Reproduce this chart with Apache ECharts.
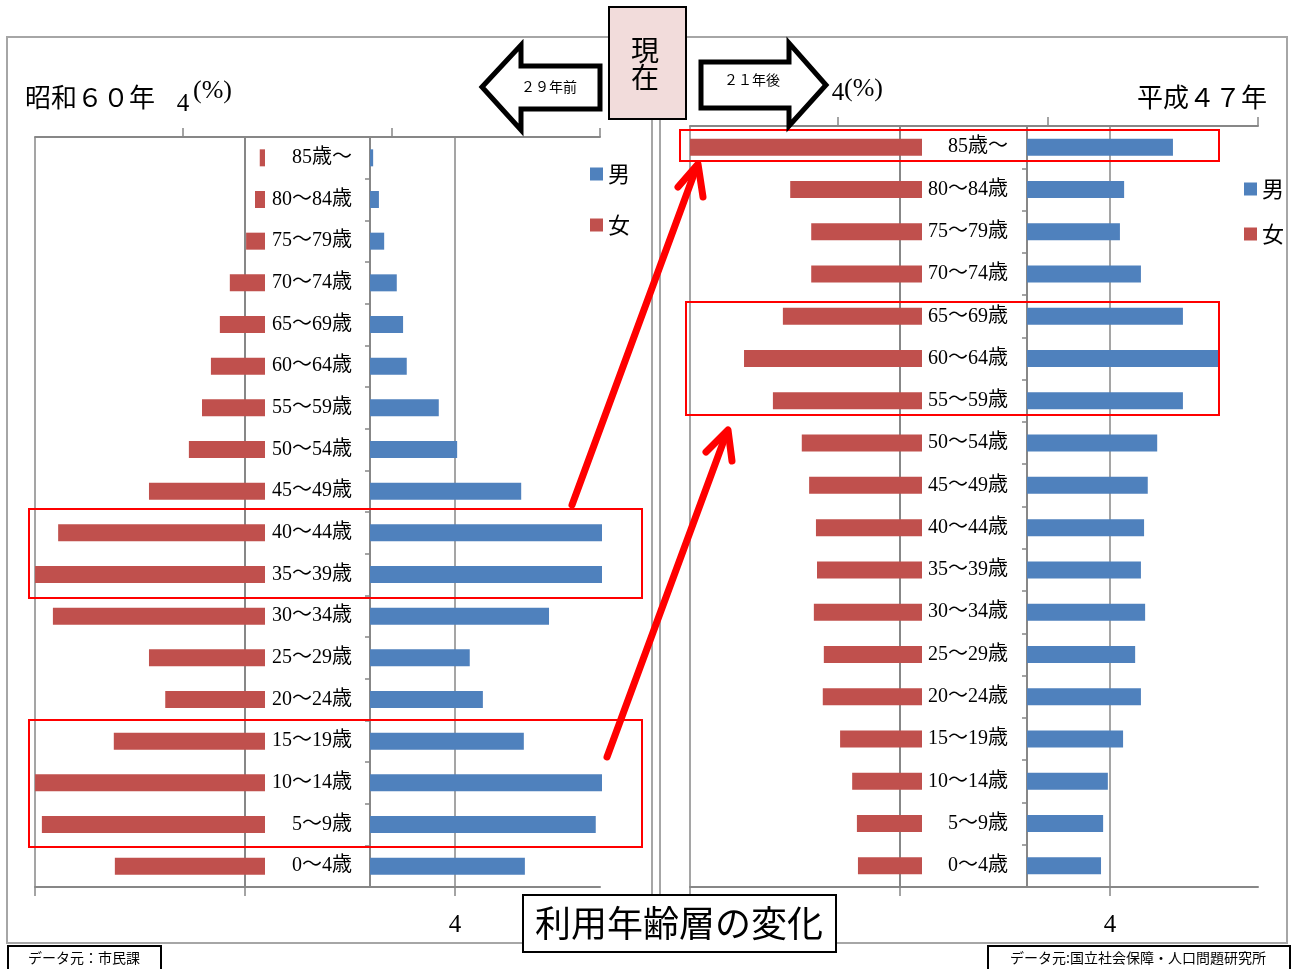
<!DOCTYPE html>
<html>
<head>
<meta charset="utf-8">
<title>利用年齢層の変化</title>
<script src="https://cdn.jsdelivr.net/npm/echarts@6/dist/echarts.min.js"></script>
<style>
  html, body { margin: 0; padding: 0; background: #fff; }
  #main { width: 1298px; height: 969px; }
</style>
</head>
<body>
<div id="main"></div>
<script>
// 年齢区分（上から）
var ages = ['85歳～', '80～84歳', '75～79歳', '70～74歳', '65～69歳', '60～64歳', '55～59歳', '50～54歳', '45～49歳',
    '40～44歳', '35～39歳', '30～34歳', '25～29歳', '20～24歳', '15～19歳', '10～14歳', '5～9歳', '0～4歳'];

// 昭和60年 (%)
var s60Female = [0.10, 0.19, 0.36, 0.67, 0.86, 1.03, 1.20, 1.45, 2.21, 3.94, 4.38, 4.04, 2.21, 1.90, 2.88, 4.38, 4.25, 2.86];
var s60Male = [0.06, 0.17, 0.27, 0.51, 0.63, 0.70, 1.31, 1.66, 2.88, 4.42, 4.42, 3.41, 1.90, 2.15, 2.93, 4.42, 4.30, 2.95];

// 平成47年 (%)
var h47Female = [4.42, 2.51, 2.11, 2.11, 2.65, 3.39, 2.84, 2.29, 2.15, 2.02, 2.00, 2.06, 1.87, 1.89, 1.56, 1.33, 1.24, 1.22];
var h47Male = [2.78, 1.85, 1.77, 2.17, 2.97, 3.64, 2.97, 2.48, 2.30, 2.23, 2.17, 2.25, 2.06, 2.17, 1.83, 1.54, 1.45, 1.41];

var axisTicks = [-4, 0, 4];
var axisLabels = [4];
var legendNames = ['男', '女'];

var PX = 52.5;  // 1% あたりのピクセル
var GRAY = '#878787';
var MALE = '#4f81bd';
var FEMALE = '#c0504d';
var SERIF = '"Liberation Serif", "Noto Sans CJK JP", serif';
var SANS = '"Noto Sans CJK JP", sans-serif';

var myChart = echarts.init(document.getElementById('main'));

function hiddenValue(grid, inverse, width) {
    return {
        type: 'value', gridIndex: grid, inverse: inverse, min: 0, max: width / PX,
        axisLine: {show: false}, axisTick: {show: false}, axisLabel: {show: false}, splitLine: {show: false}
    };
}

function frameAxis(grid, pos, inverse, width, px) {
    return {
        type: 'value', gridIndex: grid, position: pos, inverse: inverse,
        min: axisTicks[0], max: axisTicks[0] + width / px, interval: 4,
        axisLine: {show: true, lineStyle: {color: GRAY, width: 2}},
        axisTick: {show: true, length: 9, customValues: axisTicks, lineStyle: {color: GRAY, width: 1.5}},
        axisLabel: {
            margin: pos === 'top' ? 20 : 26, fontSize: 25, color: '#000', fontFamily: SERIF,
            customValues: axisLabels, showMaxLabel: false,
            formatter: function (v) { return v === 4 ? '4' : ''; }
        },
        // 端の目盛りには線を引かない
        splitLine: {show: pos === 'bottom', lineStyle: {color: [GRAY, GRAY, GRAY, 'rgba(0,0,0,0)'], width: 1.5}}
    };
}

function catAxis(grid, show, margin) {
    return {
        type: 'category', gridIndex: grid, data: ages, inverse: true,
        axisLine: {show: show, lineStyle: {color: GRAY, width: 2}},
        axisTick: {show: show, length: 5, lineStyle: {color: GRAY, width: 1.5}},
        axisLabel: {show: show, margin: margin, fontSize: 20, color: '#000', fontFamily: SERIF},
        splitLine: {show: false}
    };
}

function frameY(grid) {
    return {
        type: 'value', gridIndex: grid, min: 0, max: 1,
        axisLine: {show: true, lineStyle: {color: GRAY, width: 2}},
        axisTick: {show: false}, axisLabel: {show: false}, splitLine: {show: false}
    };
}

function bar(name, xi, yi, data, color) {
    return {
        name: name, type: 'bar', xAxisIndex: xi, yAxisIndex: yi, data: data,
        barWidth: 17, itemStyle: {color: color}, silent: true, animation: false
    };
}

var grayLine = {stroke: '#a6a6a6', lineWidth: 2, fill: null};
var redBox = {stroke: '#ff0000', lineWidth: 2, fill: null};
var redArrow = {stroke: '#ff0000', lineWidth: 7, lineCap: 'round', lineJoin: 'round', fill: null};
var blackArrow = {stroke: '#000', lineWidth: 5, fill: '#fff', lineJoin: 'miter'};

var option = {
    backgroundColor: '#fff',
    animation: false,
    grid: [
        {left: 35, top: 137, width: 230, height: 750},
        {left: 370, top: 137, width: 232, height: 750},
        {left: 35, top: 137, width: 565, height: 750},
        {left: 690, top: 126, width: 232, height: 761},
        {left: 1027, top: 126, width: 231, height: 761},
        {left: 690, top: 126, width: 568, height: 761}
    ],
    xAxis: [
        hiddenValue(0, true, 230),
        hiddenValue(1, false, 232),
        frameAxis(2, 'bottom', false, 565, PX),
        frameAxis(2, 'top', true, 565, 208.5 / 4),
        hiddenValue(3, true, 232),
        hiddenValue(4, false, 231),
        frameAxis(5, 'bottom', false, 568, PX),
        frameAxis(5, 'top', true, 568, PX)
    ],
    yAxis: [
        catAxis(0, false, 0),
        catAxis(1, true, 18),
        frameY(2),
        catAxis(3, false, 0),
        catAxis(4, true, 19),
        frameY(5)
    ],
    legend: [
        {
            data: legendNames, orient: 'vertical', left: 585, top: 158, icon: 'rect',
            itemWidth: 13, itemHeight: 13, itemGap: 29, selectedMode: false,
            textStyle: {fontSize: 22, color: '#000', fontFamily: SANS}
        },
        {
            data: legendNames, orient: 'vertical', left: 1239, top: 173, icon: 'rect',
            itemWidth: 13, itemHeight: 13, itemGap: 23, selectedMode: false,
            textStyle: {fontSize: 22, color: '#000', fontFamily: SANS}
        }
    ],
    series: [
        bar('女', 0, 0, s60Female, FEMALE),
        bar('男', 1, 1, s60Male, MALE),
        bar('女', 4, 3, h47Female, FEMALE),
        bar('男', 5, 4, h47Male, MALE)
    ],
    graphic: [
        // 外枠
        {type: 'rect', z: -1, shape: {x: 7, y: 37, width: 645, height: 906}, style: grayLine},
        {type: 'rect', z: -1, shape: {x: 660, y: 37, width: 627, height: 906}, style: grayLine},

        // タイトル
        {type: 'text', z: 50, style: {text: '昭和６０年', x: 25, y: 97, textVerticalAlign: 'middle', font: '26px ' + SANS, fill: '#000'}},
        {type: 'text', z: 50, style: {text: '(%)', x: 193, y: 91, textVerticalAlign: 'middle', font: '26px ' + SERIF, fill: '#000'}},
        {type: 'text', z: 50, style: {text: '平成４７年', x: 1267, y: 97, textAlign: 'right', textVerticalAlign: 'middle', font: '26px ' + SANS, fill: '#000'}},
        {type: 'text', z: 50, style: {text: '(%)', x: 844, y: 89, textVerticalAlign: 'middle', font: '26px ' + SERIF, fill: '#000'}},

        // 赤枠
        {type: 'rect', z: 60, shape: {x: 29, y: 509, width: 613, height: 89}, style: redBox},
        {type: 'rect', z: 60, shape: {x: 29, y: 720, width: 613, height: 127}, style: redBox},
        {type: 'rect', z: 60, shape: {x: 680, y: 130, width: 539, height: 31}, style: redBox},
        {type: 'rect', z: 60, shape: {x: 686, y: 302, width: 533, height: 113}, style: redBox},

        // 赤矢印
        {type: 'polyline', z: 70, shape: {points: [[572, 505], [697, 166]]}, style: redArrow},
        {type: 'polyline', z: 70, shape: {points: [[678, 187], [698, 164], [703, 197]]}, style: redArrow},
        {type: 'polyline', z: 70, shape: {points: [[607, 757], [727, 432]]}, style: redArrow},
        {type: 'polyline', z: 70, shape: {points: [[706, 452], [728, 430], [732, 461]]}, style: redArrow},

        // 黒矢印
        {type: 'polygon', z: 80, shape: {points: [[482, 87], [521, 45], [521, 66], [600, 66], [600, 109], [521, 109], [521, 130]]}, style: blackArrow},
        {type: 'text', z: 81, style: {text: '２９年前', x: 549, y: 87, textAlign: 'center', textVerticalAlign: 'middle', font: '14px ' + SANS, fill: '#000'}},
        {type: 'polygon', z: 80, shape: {points: [[701, 62], [789, 62], [789, 43], [826, 85], [789, 126], [789, 108], [701, 108]]}, style: blackArrow},
        {type: 'text', z: 81, style: {text: '２１年後', x: 752, y: 80, textAlign: 'center', textVerticalAlign: 'middle', font: '14px ' + SANS, fill: '#000'}},

        // 現在
        {type: 'rect', z: 90, shape: {x: 609, y: 7, width: 77, height: 112}, style: {fill: '#f2dcdb', stroke: '#000', lineWidth: 2}},
        {type: 'text', z: 91, style: {text: '現', x: 645, y: 50, textAlign: 'center', textVerticalAlign: 'middle', font: '28px ' + SANS, fill: '#000'}},
        {type: 'text', z: 91, style: {text: '在', x: 645, y: 77, textAlign: 'center', textVerticalAlign: 'middle', font: '28px ' + SANS, fill: '#000'}},

        // 見出し
        {type: 'rect', z: 90, shape: {x: 523, y: 895, width: 313, height: 57}, style: {fill: '#fff', stroke: '#000', lineWidth: 2}},
        {type: 'text', z: 91, style: {text: '利用年齢層の変化', x: 679, y: 923, textAlign: 'center', textVerticalAlign: 'middle', font: '36px ' + SANS, fill: '#000'}},

        // データ元
        {type: 'rect', z: 90, shape: {x: 8, y: 946, width: 153, height: 30}, style: {fill: '#fff', stroke: '#000', lineWidth: 2}},
        {type: 'text', z: 91, style: {text: 'データ元：市民課', x: 84, y: 958, textAlign: 'center', textVerticalAlign: 'middle', font: '14px ' + SANS, fill: '#000'}},
        {type: 'rect', z: 90, shape: {x: 988, y: 946, width: 302, height: 30}, style: {fill: '#fff', stroke: '#000', lineWidth: 2}},
        {type: 'text', z: 91, style: {text: 'データ元:国立社会保障・人口問題研究所', x: 1138, y: 958, textAlign: 'center', textVerticalAlign: 'middle', font: '14px ' + SANS, fill: '#000'}}
    ]
};

myChart.setOption(option);
</script>
</body>
</html>
